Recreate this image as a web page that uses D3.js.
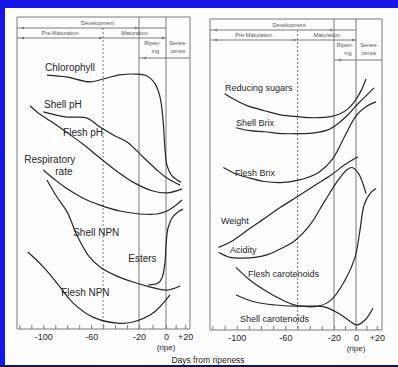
<!DOCTYPE html>
<html>
<head>
<meta charset="utf-8">
<script src="https://cdn.jsdelivr.net/npm/d3@7"></script>
<style>
  body { margin: 0; background: #1616e8; }
  svg { display: block; }
</style>
</head>
<body>
<script>
// days from ripeness vs relative level (0-100)
const chlorophyll = [[-97,94],[-80,93.3],[-61,91.5],[-50,92.6],[-36,94.1],[-22,94.4],[-14,93.7],[-8,90.7],[-4.4,85.9],[-2.2,77.4],[-0.7,66.3],[1,60.7],[6.3,56.7],[15.6,54.4]];
const shellPH = [[-100,80.4],[-90,79.3],[-80,78.5],[-63.5,78.1],[-52.6,74.8],[-40,71.5],[-30,69.3],[-17,63.7],[-6.7,58.9],[1,55.9],[14.6,53.3]];
const fleshPH = [[-111,82.6],[-103,79.6],[-94,77],[-82,73.3],[-67,68.5],[-52.6,63.3],[-40,58.9],[-25,54.4],[-9.6,51.1],[1,50.4],[16.7,51.9]];
const respiration = [[-100,58.9],[-90,55.2],[-80,51.9],[-67,48.5],[-52.6,45.9],[-36,43.7],[-19.3,42.6],[-6.7,42.6],[1,43.7],[9.4,45.6],[16.7,47.8]];
const shellNPN = [[-97,55.2],[-88.6,48.9],[-80,43.3],[-72,34.8],[-62.6,27.4],[-52.6,23],[-38.4,19.6],[-25,17.4],[-12,15.6],[1,14.4],[14.6,15.9]];
const esters = [[-13.3,16.3],[-5.9,17],[-3,18.9],[-0.7,24.8],[0,31.1],[2.1,37.4],[6.3,41.1],[12.5,43.3],[17.7,44.4]];
const fleshNPN = [[-113,28.5],[-100,23],[-88.6,17],[-75,9.6],[-58.5,4.4],[-38.4,2.2],[-25,2.6],[-9.6,5.9],[4.2,12.6]];

const reducingSugars = [[-110,87.8],[-100,85.2],[-91,83.3],[-77,81.5],[-64,80],[-50,79.3],[-36,78.9],[-23,79.3],[-14.5,80.4],[-7.3,82.2],[-0.9,85.2],[4.8,88.9],[9.6,93.3]];
const shellBrix = [[-100.6,75.2],[-89,74.1],[-77,73.7],[-62,73],[-50,73],[-36,73.3],[-25,74.4],[-16.4,76.7],[-7.3,80],[1.9,84.1],[10.6,87.4],[17.3,90]];
const fleshBrix = [[-111,60.4],[-101,58.1],[-91,56.7],[-77,55.2],[-64,54.8],[-50,55.6],[-33,58.5],[-21,63.7],[-10,72.2],[0,79.6],[9.6,83],[19.2,84.8]];
const weight = [[-115,30.7],[-103,33.3],[-89,37.8],[-77,41.5],[-64,45.6],[-50,49.6],[-36,53.7],[-23,57.4],[-10,61.5],[1.9,64.4]];
const acidity = [[-115,28.9],[-105.6,27],[-96.5,26.7],[-85,27],[-74,28.1],[-63,30.4],[-52,33.3],[-40,38.9],[-27.4,48.1],[-16.4,55.6],[-8.2,59.6],[-3.6,60.4],[1.9,58.5],[6.7,54.4],[9.6,50.7]];
const fleshCarotenoids = [[-100.6,23.3],[-89,18.5],[-77,14.8],[-64,11.5],[-52,9.3],[-33,8.9],[-22.5,11.1],[-10,18.5],[-0.9,27],[3.8,37],[7.7,46.3],[13.5,50.7],[19.2,52.6]];
const shellCarotenoids = [[-100.6,13],[-85,10.4],[-68.5,9.3],[-52,8.9],[-39,8.9],[-27.4,8.5],[-16.4,6.3],[-4.5,3],[1,1.9],[8.7,3.7],[16.3,8.1]];

// curve labels: [text, day, level]
const leftLabels = [["Chlorophyll",-98.6,95.6],["Shell pH",-99.4,81.7],["Flesh pH",-83.5,71.3],["Respiratory",-116,61.3],["rate",-90,57.2],["Shell NPN",-75,34.6],["Esters",-29,25],["Flesh NPN",-85,12.4]];
const rightLabels = [["Reducing sugars",-109.7,88.7],["Shell Brix",-100.6,75.7],["Flesh Brix",-101.4,57.2],["Weight",-113,39.4],["Acidity",-105.6,28.7],["Flesh carotenoids",-90.8,19.8],["Shell carotenoids",-97.3,2.8]];

const tickDays = [-120,-110,-100,-90,-80,-70,-60,-50,-40,-30,-20,-10,0,10,20];
const tickText = {"-100": "-100", "-60": "-60", "-20": "-20", "0": "0", "20": "+20"};
const stages = { preEnd: -50, ripenStart: -20, senStart: 0 };

const W = 398, H = 367;
const svg = d3.select('body').append('svg').attr('width', W).attr('height', H);

svg.append('rect').attr('x', 5).attr('y', 8).attr('width', W - 5).attr('height', 357).attr('fill', '#fdfdfd');
svg.append('rect').attr('x', 0).attr('y', 365).attr('width', W).attr('height', 2).attr('fill', '#141450');

const grey = '#7a7a7a';
const ink = '#262626';

function panel(left, right, top, bottom, series, labels, fontSize) {
  const x = d3.scaleLinear().domain([-122, -20, 0, 25]).range([left, right[0], right[1], right[2]]);
  const y = d3.scaleLinear().domain([0, 100]).range([bottom, top + 42]);
  const g = svg.append('g');
  const xl = x(-122), xr = x(25);
  const hdr1 = top + 11, hdr2 = top + 21, hdr3 = top + 41;

  // frame and stage lines
  const ln = (x1, y1, x2, y2, dash) => g.append('line')
    .attr('x1', x1).attr('y1', y1).attr('x2', x2).attr('y2', y2)
    .attr('stroke', grey).attr('stroke-width', 1)
    .attr('stroke-dasharray', dash || null);
  ln(xl, top, xr, top);
  ln(xl, top, xl, bottom);
  ln(xr, top, xr, bottom);
  ln(x(stages.ripenStart), top, x(stages.ripenStart), bottom);
  ln(x(stages.senStart), top, x(stages.senStart), bottom);
  ln(x(stages.preEnd), hdr1, x(stages.preEnd), bottom, '2,2');
  ln(xl, hdr1, x(stages.senStart), hdr1);
  ln(xl, hdr2, x(stages.senStart), hdr2);
  ln(x(stages.ripenStart), hdr3, xr, hdr3);

  // small arrow heads on the stage bars
  const arrow = (px, py, dir) => g.append('path')
    .attr('d', `M${px},${py}l${-3 * dir},-1.5l0,3z`).attr('fill', grey);
  arrow(xl + 4, hdr1, -1); arrow(x(stages.ripenStart) - 1, hdr1, 1);
  arrow(xl + 4, hdr2, -1); arrow(x(stages.preEnd) - 1, hdr2, 1);
  arrow(x(stages.senStart) - 1, hdr2, 1);
  arrow(x(stages.ripenStart) + 4, hdr3, -1);

  const hdrText = (t, cx, cy) => g.append('text').attr('x', cx).attr('y', cy)
    .attr('text-anchor', 'middle').attr('font-size', 5.6).attr('fill', '#555')
    .attr('font-family', 'Liberation Sans, Arial, sans-serif').text(t);
  hdrText('Development', (xl + x(stages.senStart)) / 2 + 6, top + 8);
  hdrText('Pre-Maturation', (xl + x(stages.preEnd)) / 2, top + 18);
  hdrText('Maturation', (x(stages.preEnd) + x(stages.senStart)) / 2, top + 18);
  const cr = (x(stages.ripenStart) + x(stages.senStart)) / 2;
  const cs = (x(stages.senStart) + xr) / 2;
  hdrText('Ripen-', cr, top + 28); hdrText('ing', cr + 3, top + 36);
  hdrText('Senes-', cs, top + 28); hdrText('cence', cs, top + 36);

  // axis
  const axis = g.append('g').attr('transform', `translate(0,${bottom})`)
    .call(d3.axisBottom(x).tickValues(tickDays).tickSize(-4).tickPadding(5)
      .tickFormat(d => tickText[d] || ''));
  axis.select('.domain').attr('stroke', grey).attr('d', `M${xl},0H${xr}`);
  axis.selectAll('.tick line').attr('stroke', grey);
  axis.selectAll('.tick text').attr('font-size', 9).attr('fill', ink)
    .attr('font-family', 'Liberation Sans, Arial, sans-serif');
  g.append('text').attr('x', x(0)).attr('y', bottom + 21).attr('text-anchor', 'middle')
    .attr('font-size', 8).attr('fill', ink)
    .attr('font-family', 'Liberation Sans, Arial, sans-serif').text('(ripe)');

  // curves
  const line = d3.line().x(d => x(d[0])).y(d => y(d[1])).curve(d3.curveCatmullRom.alpha(0.5));
  g.selectAll('path.curve').data(series).join('path').attr('class', 'curve')
    .attr('d', d => line(d)).attr('fill', 'none').attr('stroke', ink).attr('stroke-width', 1.2);

  g.selectAll('text.lab').data(labels).join('text').attr('class', 'lab')
    .attr('x', d => x(d[1])).attr('y', d => y(d[2]))
    .attr('font-size', fontSize).attr('fill', ink)
    .attr('font-family', 'Liberation Sans, Arial, sans-serif').text(d => d[0]);
}

panel(17, [139, 166, 190], 17, 329,
  [chlorophyll, shellPH, fleshPH, respiration, shellNPN, esters, fleshNPN], leftLabels, 10);
panel(210, [334, 356, 382], 19, 330,
  [reducingSugars, shellBrix, fleshBrix, weight, acidity, fleshCarotenoids, shellCarotenoids], rightLabels, 9);

svg.append('text').attr('x', 208).attr('y', 363).attr('text-anchor', 'middle')
  .attr('font-size', 8.5).attr('fill', ink)
  .attr('font-family', 'Liberation Sans, Arial, sans-serif').text('Days from ripeness');
</script>
</body>
</html>
